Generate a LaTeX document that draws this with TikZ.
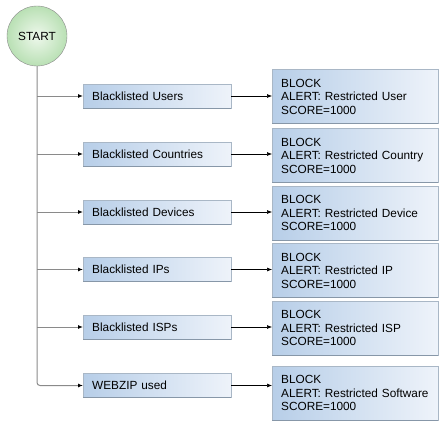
\documentclass[tikz,border=0pt]{standalone}
\usepackage{fontspec}
\setmainfont{Liberation Sans}
\usetikzlibrary{positioning,arrows.meta}

\definecolor{boxleft}{HTML}{B7CEE8}
\definecolor{boxright}{HTML}{EEF3FA}
\definecolor{boxline}{HTML}{A9B7C6}
\definecolor{boxshade}{HTML}{8797A8}
\definecolor{startin}{HTML}{EEF8EC}
\definecolor{startout}{HTML}{B9E0B4}
\definecolor{trunkgray}{HTML}{8A8A8A}

\tikzset{
    startnode/.style={circle,draw=trunkgray,inner color=startin,outer color=startout,
        minimum size=60pt,inner sep=0pt,font=\fontsize{11.8}{13}\selectfont},
    rulebox/.style={draw=boxline,left color=boxleft,right color=boxright,anchor=west,
        text width=130pt,inner xsep=9pt,inner ysep=0pt,minimum height=24pt,align=left,
        font=\fontsize{11.8}{13}\selectfont},
    actionbox/.style={rulebox,text width=148pt,minimum height=54pt,
        font=\fontsize{11.8}{13.5}\selectfont},
    link/.style={draw=black,line width=0.6pt,-{Latex[length=5pt,width=4pt,color=black]}},
    branch/.style={link,draw=trunkgray,line width=1pt},
}

\begin{document}
\begin{tikzpicture}[x=1pt,y=-1pt]
        \useasboundingbox (0,0) rectangle (444,428);

        % the start node
        \node[startnode] (start) at (37,36) {START};

        % one row for every rule: box, action and the arrows between
        \foreach \i/\y/\ry/\rule/\what in {
            1/96/96.5/Blacklisted Users/User,
            2/154/155.5/Blacklisted Countries/Country,
            3/212/213/Blacklisted Devices/Device,
            4/269.5/270.5/Blacklisted IPs/IP,
            5/327/328/Blacklisted ISPs/ISP,
            6/385.5/393/WEBZIP used/Software} {
                % rule box
                \node[rulebox] (rule\i) at (83,\y) {\rule};
                % action box
                \node[actionbox] (act\i) at (272,\ry)
                    {BLOCK\\ALERT: Restricted \what\\SCORE=1000};
                % darker edge at the bottom
                \draw[boxshade,line width=0.8pt] (rule\i.south west) -- (rule\i.south east);
                \draw[boxshade,line width=0.8pt] (act\i.south west) -- (act\i.south east);
                % arrow from rule to action
                \draw[link] (rule\i.east) -- (rule\i.east -| act\i.west);
        }

        % the trunk down from start, the last branch turns the corner
        \draw[branch,rounded corners=3pt] (start.south) |- (rule6.west);
        \foreach \i in {1,...,5} {
                \coordinate (t\i) at (start.south |- rule\i.west);
                \draw[branch] (t\i) -- (rule\i.west);
        }
\end{tikzpicture}
\end{document}
